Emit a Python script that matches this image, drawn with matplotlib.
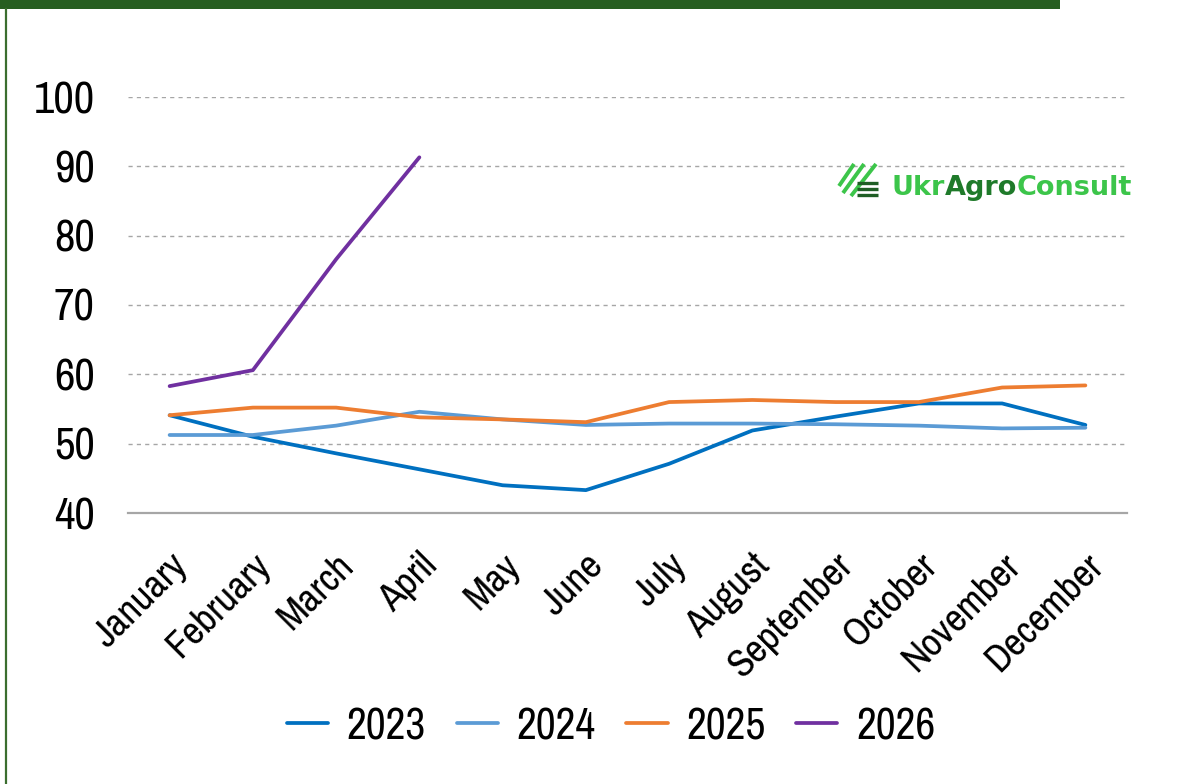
import matplotlib
matplotlib.use("Agg")
import matplotlib.pyplot as plt
from matplotlib.lines import Line2D
from matplotlib.patches import Rectangle
from matplotlib.offsetbox import TextArea, HPacker, AnchoredOffsetbox
import matplotlib.transforms as mtransforms

months = ["January", "February", "March", "April", "May", "June", "July",
          "August", "September", "October", "November", "December"]
y2023 = [54.1, 51.0, 48.6, 46.3, 44.0, 43.3, 47.1, 51.9, 53.9, 55.8, 55.8, 52.7]
y2024 = [51.25, 51.25, 52.6, 54.6, 53.5, 52.7, 52.9, 52.9, 52.8, 52.6, 52.2, 52.3]
y2025 = [54.1, 55.2, 55.2, 53.8, 53.5, 53.1, 56.0, 56.3, 56.0, 56.0, 58.1, 58.4]
y2026 = [58.3, 60.6, 76.6, 91.3]
series_labels = ["2023", "2024", "2025", "2026"]
yticks = [40, 50, 60, 70, 80, 90, 100]

colors = ["#0070C0", "#5B9BD5", "#ED7D31", "#7030A0"]

plt.rcParams["font.family"] = ["Pragati Narrow", "Archivo Narrow", "Liberation Sans", "DejaVu Sans"]

W, H = 1191, 784
fig = plt.figure(figsize=(W / 100, H / 100), dpi=100)
fig.patch.set_facecolor("white")

# decorative frame
fig.add_artist(Rectangle((0, 1 - 9 / H), 1060 / W, 9 / H, transform=fig.transFigure,
                         facecolor="#275E21", edgecolor="none"))
fig.add_artist(Line2D([6 / W, 6 / W], [0, 1 - 9 / H], transform=fig.transFigure,
                      color="#3B6E2F", lw=1.6))

ax = fig.add_axes([128 / W, 1 - 513 / H, (1127 - 128) / W, (513 - 97) / H])
x = list(range(len(months)))
for vals, c, lab in zip([y2023, y2024, y2025, y2026], colors, series_labels):
    ax.plot(x[:len(vals)], vals, color=c, lw=2.7, label=lab,
            solid_capstyle="round", solid_joinstyle="round", zorder=3)

ax.set_xlim(-0.5, len(months) - 0.5)
ax.set_ylim(40, 100)
ax.set_yticks(yticks)
ax.set_yticklabels([str(v) for v in yticks])
for v in yticks[1:]:
    ax.axhline(v, color="#A6A6A6", lw=1.0, ls=(0, (3, 3)), zorder=1)
for s in ["top", "right", "left"]:
    ax.spines[s].set_visible(False)
ax.spines["bottom"].set_color("#A6A6A6")
ax.spines["bottom"].set_linewidth(1.6)
ax.tick_params(axis="both", length=0, labelsize=35, colors="black")
ax.tick_params(axis="y", pad=24)
ax.set_xticks(x)
ax.set_xticklabels(months, rotation=45, ha="right", va="center", rotation_mode="anchor")
offset = mtransforms.ScaledTranslation(12 / 100, -42 / 100, fig.dpi_scale_trans)
for t in ax.get_xticklabels():
    t.set_transform(t.get_transform() + offset)
    t.set_fontsize(31)

leg = fig.legend(loc="center", bbox_to_anchor=(611 / W, 1 - 727 / H), ncol=4, frameon=False,
                 fontsize=34, handlelength=0.87, handletextpad=0.39, columnspacing=0.66)

# logo
tp = dict(fontsize=19.5, fontweight="bold", family=["DejaVu Sans"])
ta1 = TextArea("Ukr", textprops=dict(color="#3CC54A", **tp))
ta2 = TextArea("Agro", textprops=dict(color="#1F7A2A", **tp))
ta3 = TextArea("Consult", textprops=dict(color="#3CC54A", **tp))
box = HPacker(children=[ta1, ta2, ta3], pad=0, sep=0, align="baseline")
ab = AnchoredOffsetbox(loc="center left", child=box, frameon=False,
                       bbox_to_anchor=(891 / W, 1 - 188 / H), bbox_transform=fig.transFigure,
                       borderpad=0, pad=0)
fig.add_artist(ab)
# icon stripes
for (xa, ya, xb, yb) in [(839, 186, 854, 164), (843, 193, 864, 164), (851, 196, 876, 164)]:
    fig.add_artist(Line2D([xa / W, xb / W], [1 - ya / H, 1 - yb / H],
                          transform=fig.transFigure, color="#3CC54A", lw=2.8, solid_capstyle="butt"))
for yy in [183, 189, 195]:
    fig.add_artist(Line2D([857 / W, 878 / W], [1 - yy / H, 1 - yy / H],
                          transform=fig.transFigure, color="#1F5E25", lw=2.4, solid_capstyle="butt"))

fig.savefig("out.png", dpi=100, facecolor="white")
